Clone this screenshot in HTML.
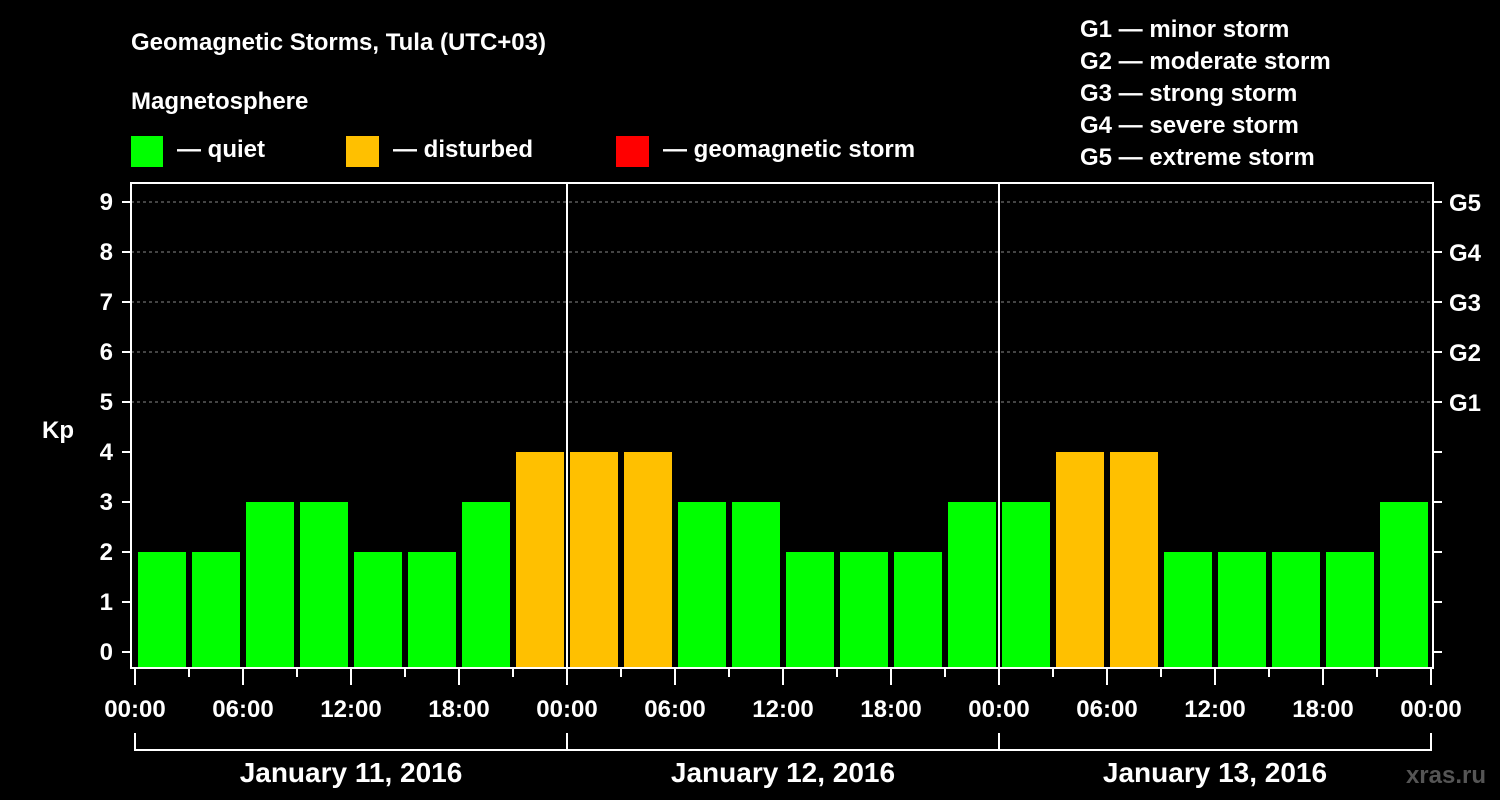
<!DOCTYPE html>
<html><head><meta charset="utf-8"><style>
body{margin:0;background:#000;width:1500px;height:800px;overflow:hidden}
svg{display:block}
text{font-family:"Liberation Sans",Arial,sans-serif;font-weight:bold;fill:#fff}
</style></head><body>
<svg id="c" width="1500" height="800">
<text x="131" y="50" font-size="24">Geomagnetic Storms, Tula (UTC+03)</text>
<text x="131" y="109" font-size="24">Magnetosphere</text>
<rect x="131" y="136" width="32" height="31" fill="#00ff00"/>
<text x="177" y="157" font-size="24">— quiet</text>
<rect x="346" y="136" width="33" height="31" fill="#ffc000"/>
<text x="393" y="157" font-size="24">— disturbed</text>
<rect x="616" y="136" width="33" height="31" fill="#ff0000"/>
<text x="663" y="157" font-size="24">— geomagnetic storm</text>
<g font-size="24">
<text x="1080" y="37">G1 — minor storm</text>
<text x="1080" y="69">G2 — moderate storm</text>
<text x="1080" y="101">G3 — strong storm</text>
<text x="1080" y="133">G4 — severe storm</text>
<text x="1080" y="165">G5 — extreme storm</text>
</g>
<text x="42" y="438" font-size="24">Kp</text>
<text x="1486" y="783" font-size="24" fill="#444" style="fill:#555" text-anchor="end">xras.ru</text>
<g id="plot"></g>
</svg>
<script>
const kpValues = [2,2,3,3,2,2,3,4, 4,4,3,3,2,2,2,3, 3,4,4,2,2,2,2,3];
const dayLabels = ["January 11, 2016","January 12, 2016","January 13, 2016"];
const hourLabels = ["00:00","06:00","12:00","18:00"];
const gLabels = ["G1","G2","G3","G4","G5"];
const yTicks = [0,1,2,3,4,5,6,7,8,9];

const NS="http://www.w3.org/2000/svg";
const g=document.getElementById('plot');
const L=131,R=1433,T=183,B=668,X0=135,SLOT=54;
const y=v=>652-v*50;
const x=i=>X0+i*SLOT;
function mk(tag,a){const e=document.createElementNS(NS,tag);for(const k in a)e.setAttribute(k,a[k]);g.appendChild(e);return e;}
function color(v){return v>=5?'#ff0000':v>=4?'#ffc000':'#00ff00';}

yTicks.forEach(v=>{
  if(v>=5){const l=mk('line',{x1:L,x2:R,y1:y(v),y2:y(v),stroke:'#888','stroke-dasharray':'3,3','stroke-width':1});
  
  }
  const t=mk('line',{x1:L-9,x2:L,y1:y(v),y2:y(v),stroke:'#fff','stroke-width':2});
  
  
  const t2=mk('line',{x1:R,x2:R+9,y1:y(v),y2:y(v),stroke:'#fff','stroke-width':2});
  
  
  const tx=mk('text',{x:113,y:y(v)+8,'font-size':24,'text-anchor':'end'});
  tx.textContent=v;
  
  
});
gLabels.forEach((s,i)=>{
  const tx=mk('text',{x:1449,y:y(i+5)+9,'font-size':24});
  tx.textContent=s;
  
  
});
kpValues.forEach((v,i)=>{
  const r=mk('rect',{x:x(i)+3,y:y(v),width:SLOT-6,height:B-y(v),fill:color(v)});
  
  
});
// frame
const f=mk('rect',{x:L,y:T,width:R-L,height:B-T,fill:'none',stroke:'#fff','stroke-width':2});


for(let d=1;d<dayLabels.length;d++){
  const l=mk('line',{x1:x(d*8),x2:x(d*8),y1:T,y2:B,stroke:'#fff','stroke-width':2});
  
  
}
for(let i=0;i<=kpValues.length;i++){
  const major=i%2===0;
  const l=mk('line',{x1:x(i),x2:x(i),y1:B,y2:major?685:677,stroke:'#fff','stroke-width':2});
  
  
  if(major){
    const tx=mk('text',{x:x(i),y:717,'font-size':24,'text-anchor':'middle'});
    tx.textContent=hourLabels[(i/2)%4];
    
    
  }
}
const br=mk('path',{d:`M${x(0)} 733V750H${x(kpValues.length)}V733`,fill:'none',stroke:'#fff','stroke-width':2});


dayLabels.forEach((s,d)=>{
  if(d>0){const l=mk('line',{x1:x(d*8),x2:x(d*8),y1:733,y2:750,stroke:'#fff','stroke-width':2});
  
  }
  const tx=mk('text',{x:x(d*8+4),y:782,'font-size':28,'text-anchor':'middle'});
  tx.textContent=s;
  
  
});
</script>
</body></html>
